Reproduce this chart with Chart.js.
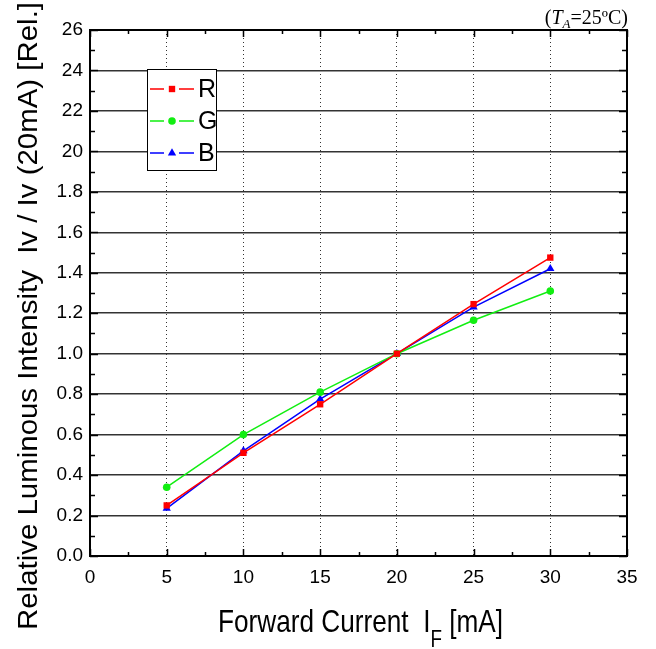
<!DOCTYPE html>
<html>
<head>
<meta charset="utf-8">
<script src="https://cdn.jsdelivr.net/npm/chart.js@4.4.1/dist/chart.umd.min.js"></script>
<style>
  html, body { margin: 0; padding: 0; background: #fff; }
  canvas { display: block; }
</style>
</head>
<body>
<canvas id="grafico" width="656" height="649"></canvas>
<script>
// ===================== DATA =====================
const currents = [5, 10, 15, 20, 25, 30];
const redValues = [0.25, 0.51, 0.75, 1.0, 1.245, 1.475];
const greenValues = [0.34, 0.60, 0.81, 1.0, 1.165, 1.31];
const blueValues = [0.235, 0.52, 0.775, 1.0, 1.23, 1.42];

const seriesNames = ["R", "G", "B"];
const xTickLabels = ["0", "5", "10", "15", "20", "25", "30", "35"];
const yTickLabels = ["0.0", "0.2", "0.4", "0.6", "0.8", "1.0", "1.2", "1.4", "1.6", "1.8", "20", "22", "24", "26"];

// ===================== STYLE =====================
const colors = ["#ff0000", "#11ee11", "#0000ff"];
const pointStyles = ["rect", "circle", "triangle"];
const pointRadii = [4.5, 3.8, 4.8];

function toPoints(vals) {
  return currents.map((x, i) => ({ x: x, y: vals[i] }));
}

const seriesValues = [redValues, greenValues, blueValues];
const datasets = seriesValues.map((vals, i) => ({
  label: seriesNames[i],
  data: toPoints(vals),
  borderColor: colors[i],
  backgroundColor: colors[i],
  borderWidth: 1.5,
  pointStyle: pointStyles[i],
  pointRadius: pointRadii[i],
  pointBorderWidth: 0,
  tension: 0
}));

// draw a run of text pieces (normal / subscript) squeezed to a given width
function drawPieces(ctx, pieces, targetWidth) {
  let total = 0;
  pieces.forEach((p) => {
    ctx.font = p.font;
    total += ctx.measureText(p.text).width;
  });
  const sx = targetWidth / total;
  ctx.save();
  ctx.scale(sx, 1);
  let x = 0;
  pieces.forEach((p) => {
    ctx.font = p.font;
    ctx.fillText(p.text, x, p.dy || 0);
    x += ctx.measureText(p.text).width;
  });
  ctx.restore();
}

// ===================== DECORATION PLUGIN =====================
const decorPlugin = {
  id: "decor",
  beforeDraw(chart) {
    const ctx = chart.ctx;
    ctx.save();
    ctx.fillStyle = "#fff";
    ctx.fillRect(0, 0, chart.width, chart.height);
    ctx.restore();
  },
  afterDraw(chart) {
    const ctx = chart.ctx;
    const area = chart.chartArea;
    const xs = chart.scales.x;
    const ys = chart.scales.y;

    ctx.save();
    ctx.strokeStyle = "#000";
    ctx.lineWidth = 1.5;

    // minor + major ticks, x (bottom and top)
    ctx.beginPath();
    xs.ticks.forEach((t, i) => {
      const px = Math.round(xs.getPixelForValue(t.value)) + 0.5;
      ctx.moveTo(px, area.bottom);
      ctx.lineTo(px, area.bottom - 7);
      ctx.moveTo(px, area.top);
      ctx.lineTo(px, area.top + 7);
      if (i < xs.ticks.length - 1) {
        const mid = (t.value + xs.ticks[i + 1].value) / 2;
        const pm = Math.round(xs.getPixelForValue(mid)) + 0.5;
        ctx.moveTo(pm, area.bottom);
        ctx.lineTo(pm, area.bottom - 4);
        ctx.moveTo(pm, area.top);
        ctx.lineTo(pm, area.top + 4);
      }
    });
    // y ticks (left and right)
    ys.ticks.forEach((t, i) => {
      const py = Math.round(ys.getPixelForValue(t.value)) + 0.5;
      ctx.moveTo(area.left, py);
      ctx.lineTo(area.left + 8, py);
      ctx.moveTo(area.right, py);
      ctx.lineTo(area.right - 8, py);
      if (i < ys.ticks.length - 1) {
        const mid = (t.value + ys.ticks[i + 1].value) / 2;
        const pm = Math.round(ys.getPixelForValue(mid)) + 0.5;
        ctx.moveTo(area.left, pm);
        ctx.lineTo(area.left + 5, pm);
        ctx.moveTo(area.right, pm);
        ctx.lineTo(area.right - 5, pm);
      }
    });
    ctx.stroke();

    // legend box
    const lx = area.left + 57;
    const ly = area.top + 39;
    ctx.fillStyle = "#fff";
    ctx.fillRect(lx, ly, 69, 101);
    ctx.lineWidth = 1;
    ctx.strokeStyle = "#000";
    ctx.strokeRect(lx + 0.5, ly + 0.5, 69, 101);
    seriesNames.forEach((name, i) => {
      const ry = ly + 20 + i * 32;
      ctx.strokeStyle = colors[i];
      ctx.fillStyle = colors[i];
      ctx.lineWidth = 1.5;
      ctx.beginPath();
      ctx.moveTo(lx + 3, ry);
      ctx.lineTo(lx + 17, ry);
      ctx.moveTo(lx + 32, ry);
      ctx.lineTo(lx + 47, ry);
      ctx.stroke();
      Chart.helpers.drawPoint(ctx, { pointStyle: pointStyles[i], radius: pointRadii[i], rotation: 0, borderWidth: 0 }, lx + 25, ry);
      ctx.fillStyle = "#000";
      ctx.font = "25px 'Liberation Sans', Arial, sans-serif";
      ctx.textBaseline = "middle";
      ctx.textAlign = "left";
      ctx.fillText(name, lx + 51, ry + 1);
    });

    // frame
    ctx.strokeStyle = "#000";
    ctx.lineWidth = 2;
    ctx.strokeRect(area.left, area.top, area.right - area.left, area.bottom - area.top);

    // x axis title
    ctx.fillStyle = "#000";
    ctx.textBaseline = "alphabetic";
    ctx.textAlign = "left";
    const big = "32px 'Liberation Sans', Arial, sans-serif";
    const small = "23px 'Liberation Sans', Arial, sans-serif";
    ctx.save();
    ctx.translate(218, 632);
    drawPieces(ctx, [
      { text: "Forward Current  I", font: big },
      { text: "F", font: small, dy: 15 },
      { text: " [mA]", font: big }
    ], 285);
    ctx.restore();

    // y axis title
    ctx.save();
    ctx.translate(37, 630);
    ctx.rotate(-Math.PI / 2);
    drawPieces(ctx, [
      { text: "Relative Luminous Intensity  Iv / Iv (20mA) [Rel.]", font: "28px 'Liberation Sans', Arial, sans-serif" }
    ], 628);
    ctx.restore();

    // temperature note
    const note = [
      { text: "(", font: "20px 'Liberation Serif', serif" },
      { text: "T", font: "italic 20px 'Liberation Serif', serif" },
      { text: "A", font: "italic 13px 'Liberation Serif', serif", dy: 4 },
      { text: "=25\u00baC)", font: "20px 'Liberation Serif', serif" }
    ];
    let w = 0;
    note.forEach((p) => { ctx.font = p.font; w += ctx.measureText(p.text).width; });
    ctx.save();
    ctx.translate(area.right + 1 - w, 24);
    drawPieces(ctx, note, w);
    ctx.restore();

    ctx.restore();
  }
};

// ===================== CHART =====================
const ctxGrafico = document.getElementById("grafico");
new Chart(ctxGrafico, {
  type: "line",
  data: { datasets: datasets },
  plugins: [decorPlugin],
  options: {
    responsive: false,
    animation: false,
    layout: { padding: { left: 0, top: 30, right: 29, bottom: 0 } },
    plugins: { legend: { display: false }, tooltip: { enabled: false } },
    scales: {
      x: {
        type: "linear",
        min: 0,
        max: 35,
        ticks: {
          stepSize: 5,
          padding: 10,
          color: "#000",
          font: { family: "'Liberation Sans', Arial, sans-serif", size: 19 },
          callback: (v, i) => xTickLabels[i]
        },
        grid: { color: "#333", lineWidth: 1, drawTicks: false },
        border: { display: false, dash: [1, 3] },
        afterFit: (s) => { s.height = 93; }
      },
      y: {
        min: 0,
        max: 2.6,
        ticks: {
          stepSize: 0.2,
          padding: 7,
          color: "#000",
          font: { family: "'Liberation Sans', Arial, sans-serif", size: 19 },
          callback: (v, i) => yTickLabels[i]
        },
        grid: { color: "#333", lineWidth: 1.5, drawTicks: false },
        border: { display: false },
        afterFit: (s) => { s.width = 90; }
      }
    }
  }
});
</script>
</body>
</html>
